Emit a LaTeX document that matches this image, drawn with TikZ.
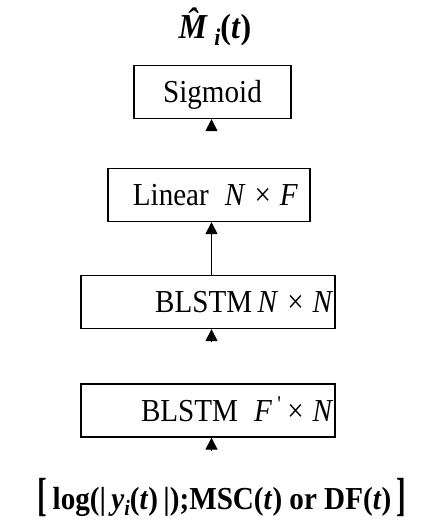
\documentclass[tikz,border=0pt]{standalone}
\usepackage{fontspec}
\setmainfont{Liberation Serif}[FakeStretch=0.91]
\usetikzlibrary{arrows.meta}
\newcommand{\bigfs}{\fontsize{32}{38}\selectfont}
\newcommand{\ttlfs}{\fontsize{35}{40}\selectfont}
\newcommand{\xsp}{\hspace{0.28em}}
\begin{document}
\begin{tikzpicture}[x=1pt,y=-1pt,
  box/.style={draw, line width=1.3pt, text height=21pt, text depth=0pt,
    minimum height=53pt, inner ysep=0pt, font=\bigfs},
  arr/.style={-{Triangle[width=12pt,length=12pt]}, line width=1.2pt},
  lab/.style={inner sep=0pt, anchor=base, font=\bigfs\bfseries}]
\useasboundingbox (0,0) rectangle (422,531);
% title
\node[lab, font=\ttlfs\bfseries] (out) at (215,38) {\textit{\^M}\raisebox{-0.22em}{\fontsize{24}{24}\selectfont\textit{i}}(\textit{t})};
% boxes
\node[box, minimum width=157pt] (sig) at (212.5,92) {Sigmoid};
\node[box, text width=196pt, inner xsep=3pt, align=right] (lin) at (209,195) {Linear\enspace\textit{N}\xsp×\xsp\textit{F}\kern9pt};
\node[box, text width=251pt, inner xsep=1.5pt, align=right] (b2) at (208,302) {BLSTM\,\textit{N}\xsp×\xsp\textit{N}};
\node[box, text width=251pt, inner xsep=1.5pt, align=right] (b1) at (208,410.5) {BLSTM\enspace\textit{F}\,\textsuperscript{\textquotesingle}\,×\xsp\textit{N}};
% input
\node[lab] (in) at (222,509) {\raisebox{-0.06em}{\scalebox{1}[1.45]{[}}\,log(|\,\textit{y}\raisebox{-0.2em}{\fontsize{22}{22}\selectfont\textit{i}}(\textit{t})\,|);MSC(\textit{t}) or DF(\textit{t})\,\raisebox{-0.06em}{\scalebox{1}[1.45]{]}}};
% arrows
\coordinate (ax) at (211.5,0);
\coordinate (h1) at (211.5,130);
\coordinate (h3) at (211.5,342);
\coordinate (h4) at (211.5,451);
\draw[arr] (h1) -- (h1 |- sig.south);
\draw[arr] (ax |- b2.north) -- (ax |- lin.south);
\draw[arr] (h3) -- (h3 |- b2.south);
\draw[arr] (h4) -- (h4 |- b1.south);
\end{tikzpicture}
\end{document}
